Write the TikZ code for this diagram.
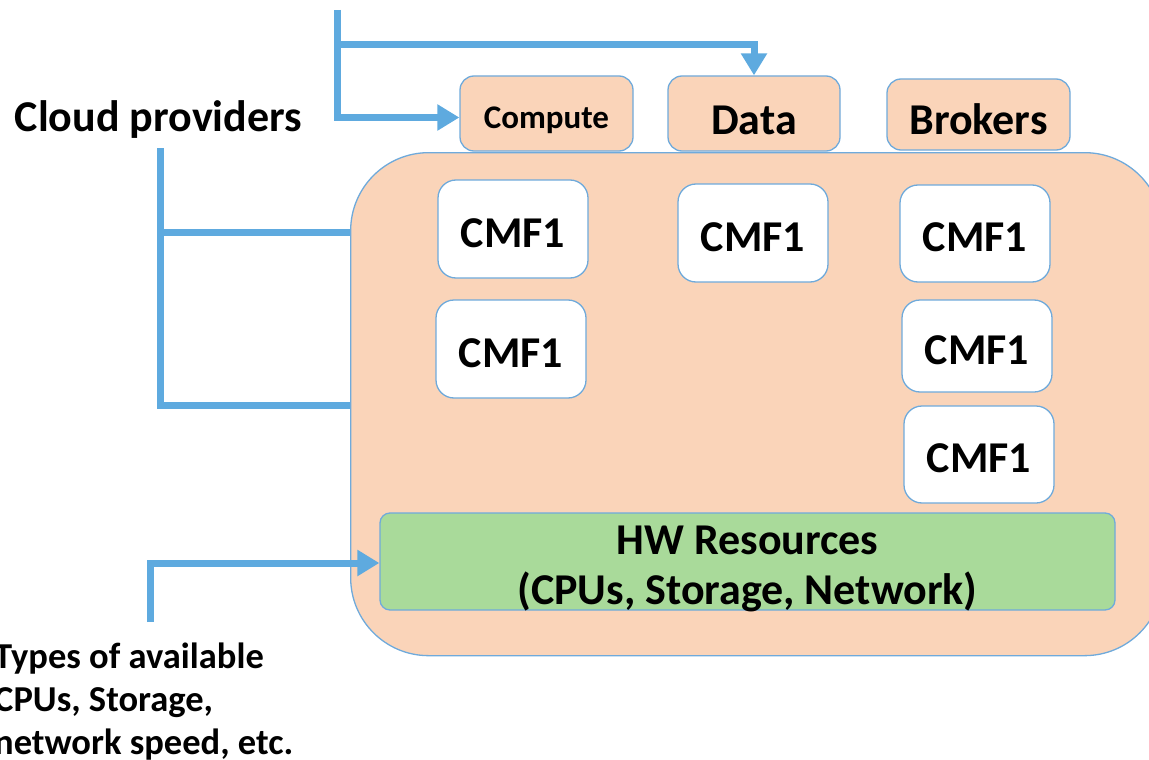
\documentclass[tikz,border=0pt]{standalone}
\usepackage{fontspec}
\setmainfont{Carlito}
\usetikzlibrary{arrows.meta}
\definecolor{peach}{HTML}{FAD4B9}
\definecolor{edgeblue}{HTML}{6FAADB}
\definecolor{connblue}{HTML}{5EAADF}
\definecolor{hwgreen}{HTML}{A9DA9A}
\begin{document}
\begin{tikzpicture}[x=1pt,y=-1pt,font=\bfseries,
  box/.style={draw=edgeblue,line width=1.3pt,inner sep=0pt,align=center},
  big/.style={font=\fontsize{44}{50}\selectfont\bfseries},
  topbox/.style={box,big,fill=peach,rounded corners=14pt,minimum height=75pt},
  cmf/.style={box,big,fill=white,rounded corners=18pt,minimum width=150pt,minimum height=98pt,text height=36pt,text depth=0pt},
  conn/.style={draw=connblue,line width=7pt},
  arr/.style={conn,-{Triangle[length=22pt,width=25pt]}}]
\useasboundingbox (0,0) rectangle (1149,760);
% platform
\node[box,fill=peach,rounded corners=78pt,minimum width=812pt,minimum height=503pt,anchor=north west] (plat) at (350,152) {};
% top boxes
\node[topbox,minimum width=173pt,font=\fontsize{33}{40}\selectfont\bfseries,text height=30pt,text depth=0pt] (compute) at (546.5,113.5) {Compute};
\node[topbox,minimum width=172pt,text height=41pt,text depth=0pt] (data) at (754,113.5) {Data};
\node[topbox,minimum width=183pt,minimum height=71pt,text height=39pt,text depth=0pt] (brokers) at (978.5,114.5) {Brokers};
% CMF boxes
\node[cmf] (c1) at (513,229) {CMF1};
\node[cmf] (c2) at (511,349) {CMF1};
\node[cmf] (c3) at (753,233) {CMF1};
\node[cmf,minimum height=97pt] (c4) at (975,233.5) {CMF1};
\node[cmf,minimum height=92pt] (c5) at (977,346) {CMF1};
\node[cmf,minimum height=97pt] (c6) at (979,454.5) {CMF1};
% HW
\node[box,fill=hwgreen,rounded corners=10pt,minimum width=735pt,minimum height=97pt] (hw) at (747.5,561.5) {};
\node[align=center,inner sep=0pt,font=\fontsize{44}{50}\selectfont\bfseries] (hwtext) at ([yshift=-7pt]hw.center) {HW Resources\\(CPUs, Storage, Network)};
% labels
\node[big] (cloud) at (158.5,120) {Cloud providers};
\node[anchor=north west,align=left,inner sep=0pt,font=\fontsize{36.5}{43}\selectfont\bfseries] (types) at (-6,643) {Types of available\\CPUs, Storage,\\network speed, etc.};
% connectors
\coordinate (top) at (337,10);
\coordinate (split) at (337,45);
\draw[arr] (top) |- ([yshift=-4pt]compute.west);
\draw[arr] (split) -| (data.north);
\coordinate (b1) at (160,148);
\coordinate (b2) at (160,405);
\coordinate (b3) at (160,232);
\draw[conn] (b1) |- (plat.west |- b2);
\draw[conn] (b3) -- (plat.west |- b3);
\coordinate (t) at (150,622);
\draw[arr] (t) |- ([yshift=-1.5pt]hw.west);
\end{tikzpicture}
\end{document}
